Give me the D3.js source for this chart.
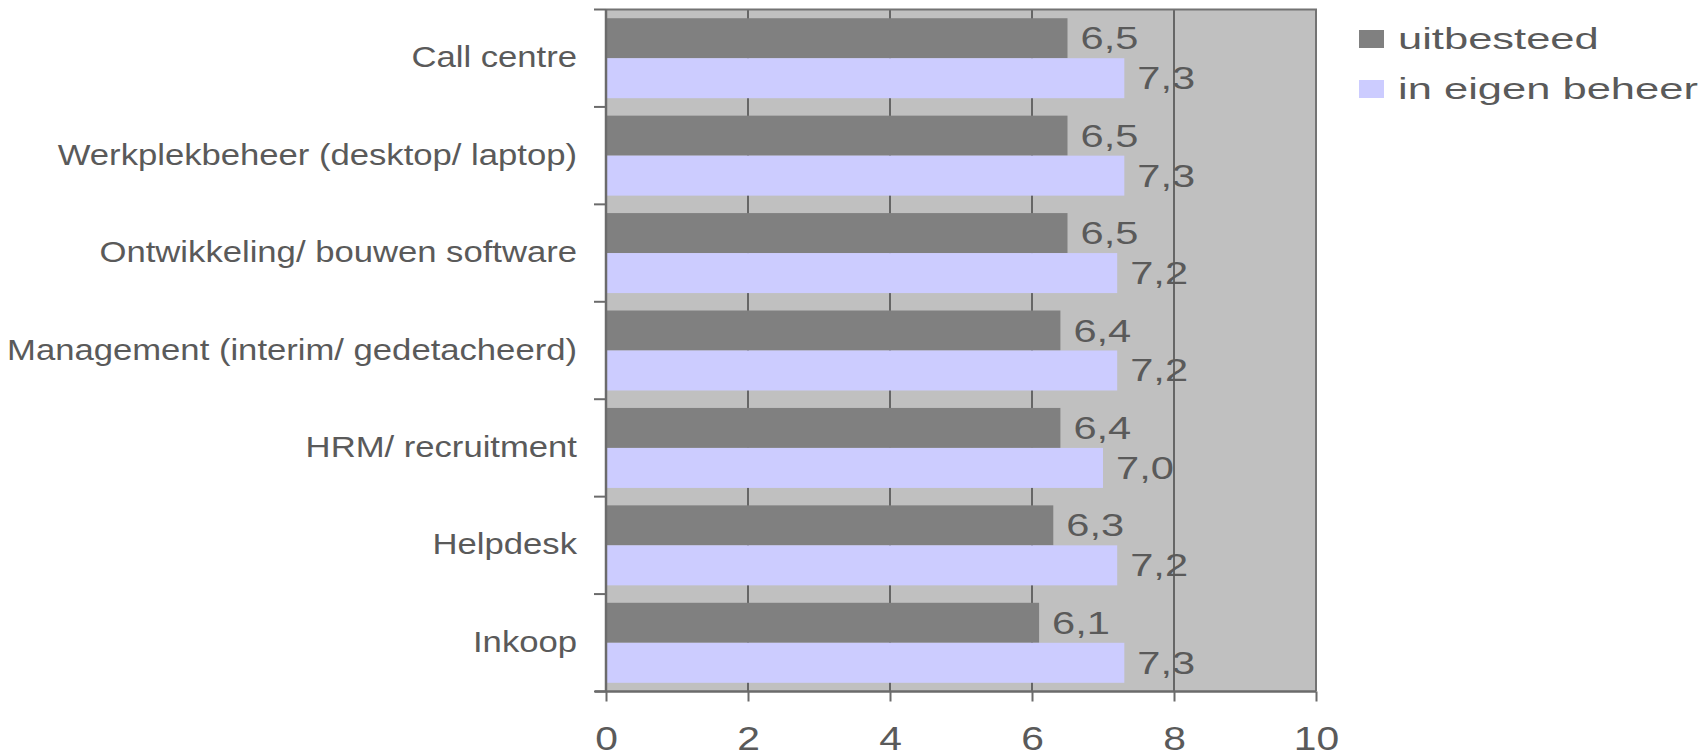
<!DOCTYPE html>
<html><head><meta charset="utf-8">
<script src="https://cdn.jsdelivr.net/npm/d3@7"></script>
<style>body{margin:0;background:#fff;overflow:hidden} svg{display:block}</style>
</head><body>
<script>
const categories = ["Call centre","Werkplekbeheer (desktop/ laptop)","Ontwikkeling/ bouwen software","Management (interim/ gedetacheerd)","HRM/ recruitment","Helpdesk","Inkoop"];
const seriesNames = ["uitbesteed","in eigen beheer"];
const uitbesteed = [6.5,6.5,6.5,6.4,6.4,6.3,6.1];
const eigenBeheer = [7.3,7.3,7.2,7.2,7.0,7.2,7.3];
const xTicks = [0,2,4,6,8,10];
const colors = ["#808080","#ccccff"];

const W = 1702, H = 751;
const FONT = "'Liberation Sans', Arial, sans-serif";
const TXT = "#5a5a5a";
const svg = d3.select("body").append("svg").attr("width", W).attr("height", H)
  .style("font-family", FONT);

const x = d3.scaleLinear().domain([0, 10]).range([606, 1316]);
const y = d3.scaleBand().domain(categories).range([9.5, 691.5]);
const sub = d3.scaleBand().domain(seriesNames).range([0, y.bandwidth()]).paddingOuter(0.218);

// plot background
svg.append("rect").attr("x", x(0)).attr("y", y.range()[0]).attr("width", x(10) - x(0))
  .attr("height", y.range()[1] - y.range()[0]).attr("fill", "#c0c0c0");

// gridlines
svg.append("g").selectAll("line").data(xTicks.slice(1, -1)).join("line")
  .attr("x1", d => x(d)).attr("x2", d => x(d))
  .attr("y1", y.range()[0]).attr("y2", y.range()[1])
  .attr("stroke", "#666").attr("stroke-width", 2);

const rows = categories.map((c, i) => ({c, vals: [uitbesteed[i], eigenBeheer[i]]}));
const flat = [];
rows.forEach(r => r.vals.forEach((v, j) => flat.push({c: r.c, s: seriesNames[j], j, v})));

// bars
svg.append("g").selectAll("rect").data(flat).join("rect")
  .attr("x", x(0)).attr("y", d => y(d.c) + sub(d.s))
  .attr("width", d => x(d.v) - x(0)).attr("height", sub.bandwidth())
  .attr("fill", d => colors[d.j]);

// border (top/right)
svg.append("path")
  .attr("d", `M${x(0)},${y.range()[0]}H${x(10)}V${y.range()[1]}`)
  .attr("fill", "none").attr("stroke", "#737373").attr("stroke-width", 2);

// data labels
svg.append("g").selectAll("text").data(flat).join("text")
  .attr("transform", d => `translate(${x(d.v) + 13},${y(d.c) + sub(d.s) + sub.bandwidth() / 2 + 11}) scale(1.3,1)`)
  .attr("font-size", 32).attr("fill", TXT)
  .text(d => d3.format(".1f")(d.v).replace(".", ","));

// x axis
const gx = svg.append("g").attr("transform", `translate(0,${y.range()[1]})`)
  .call(d3.axisBottom(x).tickValues(xTicks).tickSize(10).tickFormat(d3.format("d")));
gx.select(".domain").attr("stroke", "#6b6b6b").attr("stroke-width", 2.5)
  .attr("d", `M${x(0) - 11},0H${x(10)}`);
gx.selectAll(".tick line").attr("stroke", "#6b6b6b").attr("stroke-width", 2);
gx.selectAll(".tick text").attr("y", null).attr("dy", null)
  .attr("transform", "translate(0,58) scale(1.2,1)")
  .attr("font-size", 34).attr("font-family", FONT).attr("fill", TXT);

// y axis (labels at band centers, ticks at band boundaries)
const gy = svg.append("g").attr("transform", `translate(${x(0)},0)`)
  .call(d3.axisLeft(y).tickSize(0));
gy.select(".domain").attr("stroke", "#6b6b6b").attr("stroke-width", 2.5)
  .attr("d", `M0,${y.range()[0]}V${y.range()[1]}`);
gy.selectAll(".tick text").attr("x", null).attr("dy", null)
  .attr("transform", "translate(-29,9) scale(1.195,1)")
  .attr("font-size", 29).attr("font-family", FONT).attr("fill", TXT);
gy.append("g").selectAll("line").data(categories.map(c => y(c)).concat([y.range()[1]])).join("line")
  .attr("x1", -12).attr("x2", 0).attr("y1", d => d).attr("y2", d => d)
  .attr("stroke", "#6b6b6b").attr("stroke-width", 2);

// legend
const lg = svg.append("g").selectAll("g").data(seriesNames).join("g")
  .attr("transform", (d, i) => `translate(1359,${30 + i * 50})`);
lg.append("rect").attr("width", 25).attr("height", 18).attr("fill", (d, i) => colors[i]);
lg.append("text").attr("transform", "translate(39,19) scale(1.45,1)")
  .attr("font-size", 30).attr("fill", TXT).text(d => d);
</script>
</body></html>
